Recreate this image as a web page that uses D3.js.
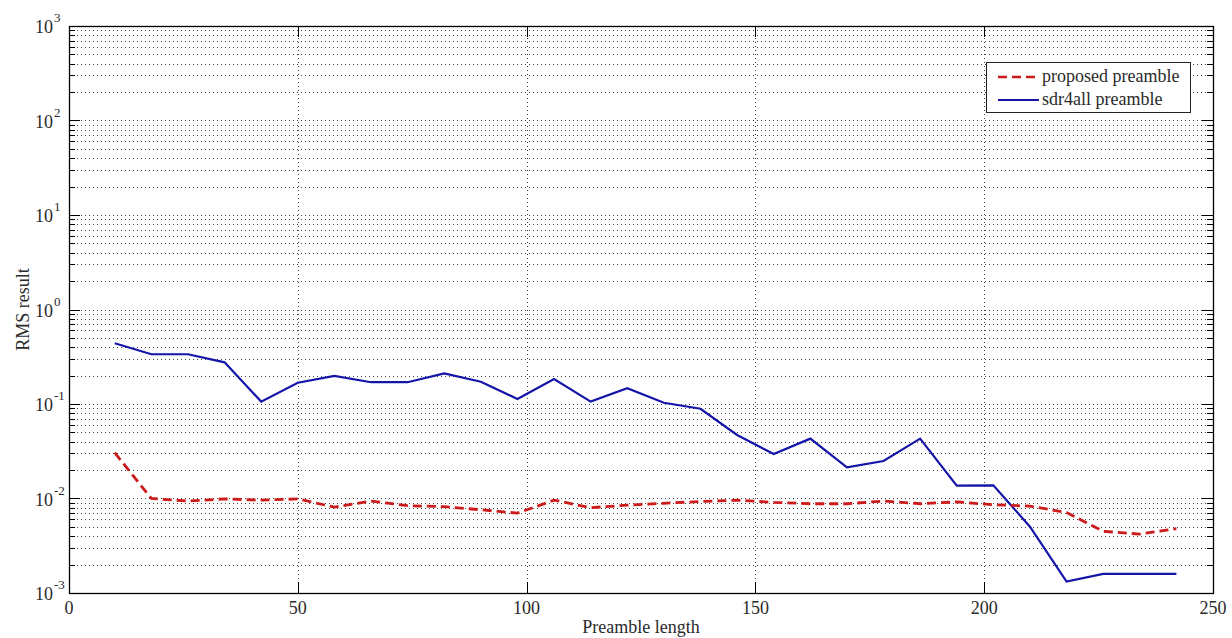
<!DOCTYPE html>
<html>
<head>
<meta charset="utf-8">
<script src="https://cdn.jsdelivr.net/npm/d3@7"></script>
<style>
  body { margin: 0; background: #fff; }
</style>
</head>
<body>
<div id="chart"></div>
<script>
// preamble lengths (x) and the two RMS series
const preambleLength = [10, 18, 26, 34, 42, 50, 58, 66, 74, 82, 90, 98, 106, 114, 122,
  130, 138, 146, 154, 162, 170, 178, 186, 194, 202, 210, 218, 226, 234, 242];
const proposed = [0.0305, 0.0100, 0.0094, 0.0099, 0.0096, 0.0099, 0.0081, 0.0094, 0.0084, 0.0082,
  0.0076, 0.0070, 0.0096, 0.0080, 0.0085, 0.0089, 0.0093, 0.0096, 0.0091, 0.0088,
  0.0088, 0.0094, 0.0088, 0.0092, 0.0086, 0.0083, 0.0071, 0.0045, 0.0042, 0.0048];
const sdr4all = [0.44, 0.336, 0.336, 0.276, 0.106, 0.168, 0.198, 0.170, 0.170, 0.211,
  0.172, 0.113, 0.184, 0.106, 0.147, 0.103, 0.089, 0.047, 0.0296, 0.043,
  0.0214, 0.0249, 0.043, 0.0137, 0.0138, 0.00503, 0.00132, 0.00159, 0.00159, 0.00159];
const xTicks = [0, 50, 100, 150, 200, 250];
const yExponents = [-3, -2, -1, 0, 1, 2, 3];
const seriesNames = ['proposed preamble', 'sdr4all preamble'];

const width = 1232, height = 638;
const margin = { left: 69, right: 19, top: 26, bottom: 45 };
const innerW = width - margin.left - margin.right;
const innerH = height - margin.top - margin.bottom;
const fontFamily = "'Liberation Serif', 'DejaVu Serif', serif";
const textColor = '#2a2a2a';

const svg = d3.select('#chart').append('svg')
  .attr('width', width)
  .attr('height', height)
  .attr('font-family', fontFamily);

const x = d3.scaleLinear().domain([0, 250]).range([margin.left, margin.left + innerW]);
const y = d3.scaleLog().domain([1e-3, 1e3]).range([margin.top + innerH, margin.top]);

// all decade and minor values for grid / ticks
let majorY = yExponents.map(e => Math.pow(10, e));
let minorY = [];
yExponents.slice(0, -1).forEach(e => {
  for (let k = 2; k <= 9; k++) minorY.push(k * Math.pow(10, e));
});

// dotted grid
let grid = svg.append('g').attr('class', 'grid')
  .attr('stroke', '#444')
  .attr('stroke-width', 1)
  .attr('stroke-dasharray', '1,3');

grid.selectAll('line.gy')
  .data(majorY.concat(minorY).filter(v => v > 1e-3 && v < 1e3))
  .enter().append('line')
  .attr('class', 'gy')
  .attr('x1', margin.left).attr('x2', margin.left + innerW)
  .attr('y1', d => Math.round(y(d)) + 0.5).attr('y2', d => Math.round(y(d)) + 0.5);

grid.selectAll('line.gx')
  .data(xTicks.filter(t => t > 0 && t < 250))
  .enter().append('line')
  .attr('class', 'gx')
  .attr('y1', margin.top).attr('y2', margin.top + innerH)
  .attr('x1', d => Math.round(x(d)) + 0.5).attr('x2', d => Math.round(x(d)) + 0.5);

// inward ticks on all four sides
let tickG = svg.append('g').attr('stroke', '#000').attr('stroke-width', 1);
let yTickData = majorY.map(v => ({ v, len: 11 })).concat(minorY.map(v => ({ v, len: 6 })));
tickG.selectAll('line.tl').data(yTickData).enter().append('line')
  .attr('x1', margin.left).attr('x2', d => margin.left + d.len)
  .attr('y1', d => Math.round(y(d.v)) + 0.5).attr('y2', d => Math.round(y(d.v)) + 0.5);
tickG.selectAll('line.tr').data(yTickData).enter().append('line')
  .attr('x1', margin.left + innerW).attr('x2', d => margin.left + innerW - d.len)
  .attr('y1', d => Math.round(y(d.v)) + 0.5).attr('y2', d => Math.round(y(d.v)) + 0.5);
tickG.selectAll('line.tb').data(xTicks).enter().append('line')
  .attr('x1', d => Math.round(x(d)) + 0.5).attr('x2', d => Math.round(x(d)) + 0.5)
  .attr('y1', margin.top + innerH).attr('y2', margin.top + innerH - 11);
tickG.selectAll('line.tt').data(xTicks).enter().append('line')
  .attr('x1', d => Math.round(x(d)) + 0.5).attr('x2', d => Math.round(x(d)) + 0.5)
  .attr('y1', margin.top).attr('y2', margin.top + 11);

// box
svg.append('rect')
  .attr('x', margin.left + 0.5).attr('y', margin.top + 0.5)
  .attr('width', innerW).attr('height', innerH)
  .attr('fill', 'none').attr('stroke', '#000').attr('stroke-width', 1.3);

// x tick labels
svg.append('g').selectAll('text').data(xTicks).enter().append('text')
  .attr('x', d => x(d))
  .attr('y', margin.top + innerH + 21)
  .attr('text-anchor', 'middle')
  .attr('font-size', 18)
  .attr('fill', textColor)
  .text(d => d);

// y tick labels: 10 with exponent
let yLab = svg.append('g').selectAll('g').data(yExponents).enter().append('g')
  .attr('transform', d => `translate(0, ${y(Math.pow(10, d))})`);
yLab.append('text')
  .attr('x', 53).attr('y', 7)
  .attr('text-anchor', 'end')
  .attr('font-size', 18)
  .attr('fill', textColor)
  .text('10');
yLab.append('text')
  .attr('x', 54).attr('y', -4)
  .attr('font-size', 13)
  .attr('fill', textColor)
  .text(d => d);

// axis titles
svg.append('text')
  .attr('x', x(125)).attr('y', height - 5)
  .attr('text-anchor', 'middle')
  .attr('font-size', 18)
  .attr('fill', textColor)
  .text('Preamble length');
svg.append('text')
  .attr('transform', `translate(29, ${y(1)}) rotate(-90)`)
  .attr('text-anchor', 'middle')
  .attr('font-size', 18)
  .attr('fill', textColor)
  .text('RMS result');

// series lines
let line = d3.line()
  .x(d => x(d[0]))
  .y(d => y(d[1]));

svg.append('path')
  .datum(preambleLength.map((p, i) => [p, sdr4all[i]]))
  .attr('d', line)
  .attr('fill', 'none')
  .attr('stroke', '#1414a8')
  .attr('stroke-width', 2.2);

svg.append('path')
  .datum(preambleLength.map((p, i) => [p, proposed[i]]))
  .attr('d', line)
  .attr('fill', 'none')
  .attr('stroke', '#cc1a1a')
  .attr('stroke-width', 2.8)
  .attr('stroke-dasharray', '9,5');

// legend
let legend = svg.append('g').attr('transform', 'translate(986, 62)');
legend.append('rect')
  .attr('x', 0.5).attr('y', 0.5)
  .attr('width', 204).attr('height', 50)
  .attr('fill', '#fff').attr('stroke', '#222').attr('stroke-width', 1);
let legendStyles = [
  { color: '#cc1a1a', dash: '9,5', width: 2.6 },
  { color: '#1414a8', dash: null, width: 2 }
];
seriesNames.forEach((name, i) => {
  let cy = 15 + i * 23;
  legend.append('line')
    .attr('x1', 12).attr('x2', 53)
    .attr('y1', cy).attr('y2', cy)
    .attr('stroke', legendStyles[i].color)
    .attr('stroke-width', legendStyles[i].width)
    .attr('stroke-dasharray', legendStyles[i].dash);
  legend.append('text')
    .attr('x', 56).attr('y', cy + 5)
    .attr('font-size', 18)
    .attr('fill', textColor)
    .text(name);
});
</script>
</body>
</html>
